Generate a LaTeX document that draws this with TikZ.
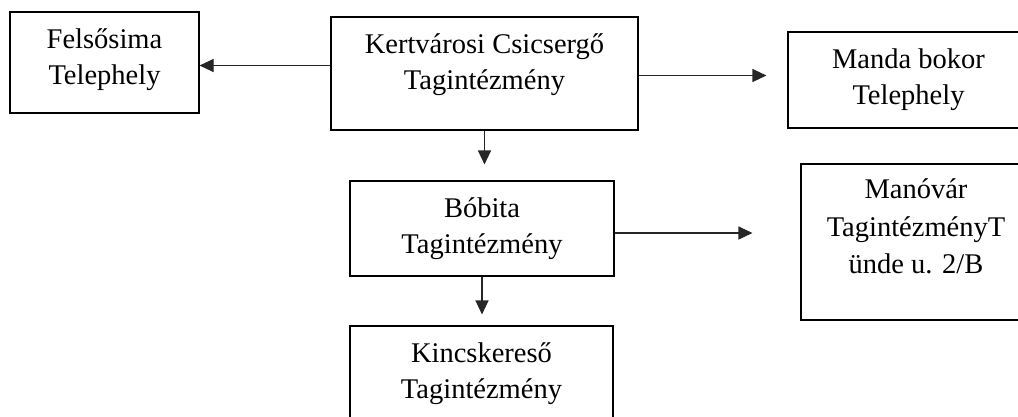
\documentclass[tikz,border=0pt]{standalone}
\usepackage{fontspec}
\setmainfont{Liberation Serif}
\usepackage{xcolor}
\usepackage{tikz}
\usetikzlibrary{
  arrows.meta,
  positioning,
  calc
}

\begin{document}
\begin{tikzpicture}[x=1pt, y=-1pt,
  unit/.style={draw, line width=1.1pt, align=center, inner sep=0pt,
    font=\fontsize{28.5}{36}\selectfont},
  link/.style={line width=1.1pt, draw=black!85,
    -{Triangle[length=14pt,width=13pt]}}
]

\useasboundingbox (0,0) rectangle (1018,416);

% Boxes (the struts lift the text a little inside the box)
\node[unit, minimum width=189, minimum height=101] (fels) at (104.5,62.5) {Felsősima\\Telephely\rule[-12pt]{0pt}{0pt}};
\node[unit, minimum width=307, minimum height=113] (kert) at (484.5,73.5) {Kertvárosi Csicsergő\\Tagintézmény\rule[-23pt]{0pt}{0pt}};
\node[unit, minimum width=241, minimum height=96] (manda) at (908.5,80) {Manda bokor\\Telephely};
\node[unit, minimum width=264, minimum height=95] (bobita) at (482,228.5) {Bóbita\\Tagintézmény};
\node[unit, minimum width=230, minimum height=156, font=\fontsize{28.5}{37.5}\selectfont] (manovar) at (916,242) {Manóvár\\TagintézményT\\ünde u. 2/B\rule[-31pt]{0pt}{0pt}};
\node[unit, minimum width=263, minimum height=95] (kincs) at (481.5,373.5) {Kincskereső\\Tagintézmény};

% Arrows
\draw[link] ([yshift=-3pt]kert.west |- fels.east) -- ([yshift=-3pt]fels.east);
\draw[link] ([yshift=-2pt]kert.east) -- ([xshift=-21pt,yshift=-2pt]manda.west |- kert.east);
\draw[link] (kert.south) -- ([yshift=16pt]bobita.north -| kert.south);
\draw[link] (bobita.south) -- ([yshift=11pt]kincs.north -| bobita.south);
\draw[link] ([yshift=-4.5pt]bobita.east) -- ([xshift=-48pt,yshift=-4.5pt]manovar.west |- bobita.east);

\end{tikzpicture}
\end{document}
